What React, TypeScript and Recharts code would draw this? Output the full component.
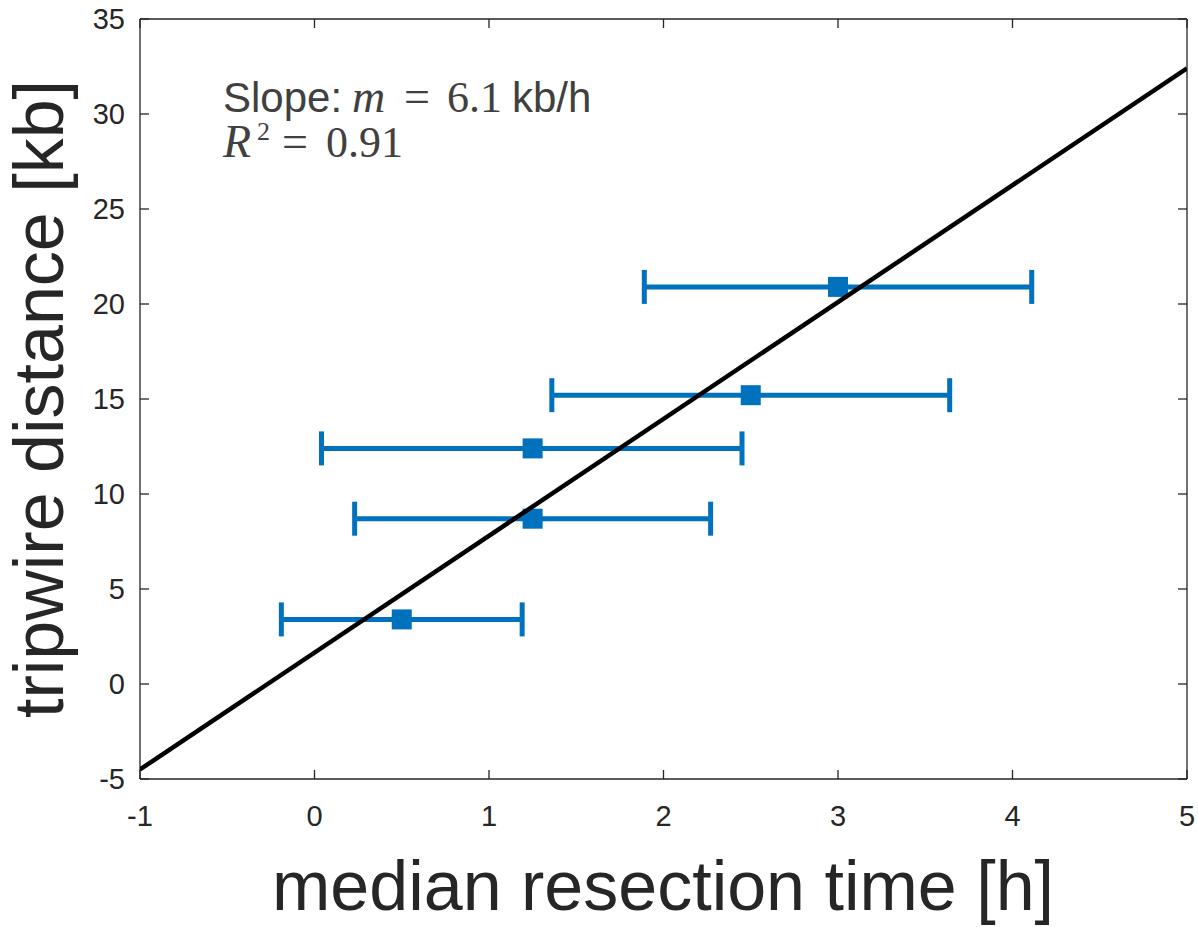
import React from 'react';
import { ScatterChart, Scatter, XAxis, YAxis, ErrorBar } from 'recharts';

// axis ticks
const xTicks = [-1, 0, 1, 2, 3, 4, 5];
const yTicks = [-5, 0, 5, 10, 15, 20, 25, 30, 35];

// measured points (median resection time vs tripwire distance)
const medianTime = [0.5, 1.25, 1.25, 2.5, 3.0];
const tripwireKb = [3.4, 8.7, 12.4, 15.2, 20.9];
const timeLow = [-0.19, 0.23, 0.04, 1.36, 1.89];
const timeHigh = [1.19, 2.27, 2.45, 3.64, 4.11];

// linear fit endpoints
const fitX = [-1, 5];
const fitY = [-4.5, 32.4];

const points = medianTime.map((x, i) => ({
  x,
  y: tripwireKb[i],
  err: [x - timeLow[i], timeHigh[i] - x],
}));
const fitLine = fitX.map((x, i) => ({ x, y: fitY[i] }));

const W = 1198;
const H = 927;
const AXIS = '#262626';
const BLUE = '#0072BD';
const SANS = '"Liberation Sans", Arial, Helvetica, sans-serif';
const SERIF = '"Liberation Serif", "Times New Roman", serif';
const TICK_GAP_Y = 15;
const TICK_GAP_X = 26;
const TICK_LEN = 9;

const LeftTick = (props: any) => {
  const { x, y, payload } = props;
  const ax = x + TICK_GAP_Y;
  return (
    <g>
      <line x1={ax} x2={ax + TICK_LEN} y1={y} y2={y} stroke={AXIS} strokeWidth={1.3} />
      <text x={x} y={y} textAnchor="end" dominantBaseline="central" fill={AXIS} fontSize={29} fontFamily={SANS}>
        {payload.value}
      </text>
    </g>
  );
};

const BottomTick = (props: any) => {
  const { x, y, payload } = props;
  const ay = y - TICK_GAP_X;
  return (
    <g>
      <line x1={x} x2={x} y1={ay} y2={ay - TICK_LEN} stroke={AXIS} strokeWidth={1.3} />
      <text x={x} y={y} dy="0.71em" textAnchor="middle" fill={AXIS} fontSize={29} fontFamily={SANS}>
        {payload.value}
      </text>
    </g>
  );
};

const TopTick = (props: any) => {
  const { x, y } = props;
  return <line x1={x} x2={x} y1={y} y2={y + TICK_LEN} stroke={AXIS} strokeWidth={1.3} />;
};

const RightTick = (props: any) => {
  const { x, y } = props;
  return <line x1={x} x2={x - TICK_LEN} y1={y} y2={y} stroke={AXIS} strokeWidth={1.3} />;
};

const SquareDot = (props: any) => {
  const { cx, cy } = props;
  if (cx == null || cy == null) return <g />;
  return <rect x={cx - 10} y={cy - 10} width={20} height={20} fill={BLUE} />;
};

export default function App() {
  return (
    <div style={{ position: 'absolute', left: 0, top: 0, width: W, height: H, background: '#fff' }}>
      <ScatterChart width={W} height={H} margin={{ top: 9, right: 1, bottom: 88, left: 80 }}>
        <XAxis
          xAxisId="bottom"
          type="number"
          dataKey="x"
          domain={[-1, 5]}
          ticks={xTicks}
          interval={0}
          height={60}
          tickSize={0}
          tickMargin={TICK_GAP_X}
          tick={<BottomTick />}
          axisLine={{ stroke: AXIS, strokeWidth: 1.3 }}
          allowDataOverflow
        />
        <XAxis
          xAxisId="top"
          orientation="top"
          type="number"
          dataKey="x"
          domain={[-1, 5]}
          ticks={xTicks}
          interval={0}
          height={10}
          tickSize={0}
          tickMargin={0}
          tick={<TopTick />}
          axisLine={{ stroke: AXIS, strokeWidth: 1.3 }}
          allowDataOverflow
        />
        <YAxis
          yAxisId="left"
          type="number"
          dataKey="y"
          domain={[-5, 35]}
          ticks={yTicks}
          interval={0}
          width={60}
          tickSize={0}
          tickMargin={TICK_GAP_Y}
          tick={<LeftTick />}
          axisLine={{ stroke: AXIS, strokeWidth: 1.3 }}
          allowDataOverflow
        />
        <YAxis
          yAxisId="right"
          orientation="right"
          type="number"
          dataKey="y"
          domain={[-5, 35]}
          ticks={yTicks}
          interval={0}
          width={10}
          tickSize={0}
          tickMargin={0}
          tick={<RightTick />}
          axisLine={{ stroke: AXIS, strokeWidth: 1.3 }}
          allowDataOverflow
        />
        <Scatter
          xAxisId="bottom"
          yAxisId="left"
          data={points}
          shape={<SquareDot />}
          fill={BLUE}
          isAnimationActive={false}
        >
          <ErrorBar dataKey="err" direction="x" width={17} strokeWidth={5} stroke={BLUE} isAnimationActive={false} />
        </Scatter>
        <Scatter
          xAxisId="bottom"
          yAxisId="left"
          data={fitLine}
          line={{ stroke: '#000', strokeWidth: 4.5 }}
          shape={() => <g />}
          isAnimationActive={false}
        />
      </ScatterChart>
      <svg width={W} height={H} style={{ position: 'absolute', left: 0, top: 0, pointerEvents: 'none' }}>
        <text x={663} y={910} textAnchor="middle" fill={AXIS} fontSize={70} fontFamily={SANS}>
          median resection time [h]
        </text>
        <text x={63} y={399} transform="rotate(-90, 63, 399)" textAnchor="middle" fill={AXIS} fontSize={70} fontFamily={SANS}>
          tripwire distance [kb]
        </text>
        <g fill="#404040" fontSize={42}>
          <text x={223} y={112} fontFamily={SANS}>Slope:</text>
          <text x={352} y={112} fontFamily={SERIF} fontStyle="italic" fontSize={46}>m</text>
          <text x={404} y={112} fontFamily={SERIF} fontSize={46}>=</text>
          <text x={447} y={112} fontFamily={SERIF} fontSize={44}>6.1</text>
          <text x={512} y={112} fontFamily={SANS}>kb/h</text>
          <text x={223} y={157} fontFamily={SERIF} fontStyle="italic" fontSize={46}>R</text>
          <text x={257} y={140} fontFamily={SERIF} fontSize={26}>2</text>
          <text x={282} y={157} fontFamily={SERIF} fontSize={46}>=</text>
          <text x={326} y={157} fontFamily={SERIF} fontSize={44}>0.91</text>
        </g>
      </svg>
    </div>
  );
}
